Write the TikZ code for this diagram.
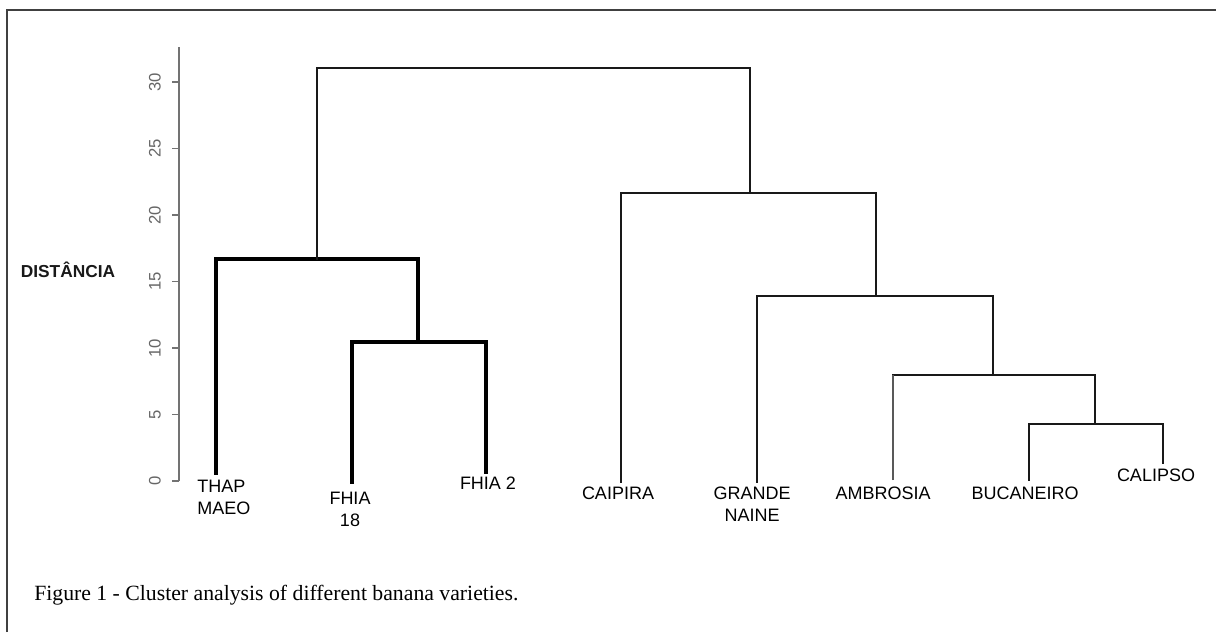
\documentclass[tikz,border=0pt]{standalone}
\usepackage{fontspec}
\setmainfont{Liberation Serif}
\setsansfont{Liberation Sans}
\usetikzlibrary{positioning}

\tikzset{
  leaf/.style={font=\sffamily\fontsize{13.5}{16.5}\selectfont, inner sep=0pt, align=center, text=black},
  ticklabel/.style={font=\sffamily\fontsize{12.5}{14}\selectfont, text=black!60, rotate=90, inner sep=0pt},
  axisline/.style={line width=1pt, black!55},
  heavy/.style={line width=2.3pt, black, line cap=rect},
  branch/.style={line width=2pt, black!90, line cap=rect},
  slim/.style={line width=1.1pt, black!65},
}

\begin{document}
\begin{tikzpicture}[x=0.75pt, y=-0.75pt]
\useasboundingbox (0,0) rectangle (1216,632);
% frame
\draw[line width=1.2pt, black!75] (7,632) -- (7,10) -- (1216,10);

% axis
\coordinate (axtop) at (179,47);
\coordinate (axbot) at (179,481);
\draw[axisline] (axtop) -- (axbot);
\foreach \v in {0,5,...,30}{
  \draw[axisline] (179,481-13.3*\v) -- ++(-7,0);
  \node[ticklabel] at (155,481-13.3*\v) {\v};
}
\node[font=\sffamily\bfseries\fontsize{13}{15}\selectfont, text=black!90] (dist) at (68,270) {DISTÂNCIA};

% leaves
\node[leaf, anchor=west, align=left] (thap) at (197,497) {THAP\\MAEO};
\node[leaf] (fhia18) at (350,509) {FHIA\\18};
\node[leaf] (fhia2) at (488,483) {FHIA 2};
\node[leaf] (caipira) at (618,493) {CAIPIRA};
\node[leaf] (grande) at (752,504) {GRANDE\\NAINE};
\node[leaf] (ambrosia) at (883,493) {AMBROSIA};
\node[leaf] (bucaneiro) at (1025,493) {BUCANEIRO};
\node[leaf] (calipso) at (1156,475) {CALIPSO};

% tips of the leaf lines
\coordinate (thap tip) at (216,473);
\coordinate (fhia18 tip) at (352,482);
\coordinate (fhia2 tip) at (486,472);
\coordinate (caipira tip) at (621,482);
\coordinate (grande tip) at (757,482);
\coordinate (ambrosia tip) at (893,480);
\coordinate (bucaneiro tip) at (1029,480);
\coordinate (calipso tip) at (1163,463);

% merges
\coordinate (mfhia) at (418,342);
\coordinate (mleft) at (317,259);
\coordinate (mbuc) at (1095,424);
\coordinate (mamb) at (993,375);
\coordinate (mgrande) at (876,296);
\coordinate (mright) at (750,193);
\coordinate (mtop) at (533,68);

% left cluster
\draw[heavy] (fhia18 tip) |- (mfhia) |- (mleft) -| (thap tip);
\draw[heavy] (mfhia) -| (fhia2 tip);
% top
\draw[branch] (mleft) |- (mtop) -| (mright);
% right cluster
\draw[branch] (caipira tip) |- (mright) -| (mgrande);
\draw[branch] (grande tip) |- (mgrande) -| (mamb);
\draw[branch] (ambrosia tip |- mamb) -- (mamb) -| (mbuc);
\draw[slim] (ambrosia tip) -- (ambrosia tip |- mamb);
\draw[branch] (mbuc) -| (calipso tip);
\draw[branch, line width=1.5pt] (bucaneiro tip) |- (mbuc);

% caption
\node[font=\fontsize{16.3}{19}\selectfont, anchor=base west, inner sep=0pt] (caption) at (34,600)
  {Figure 1 - Cluster analysis of different banana varieties.};
\end{tikzpicture}
\end{document}
